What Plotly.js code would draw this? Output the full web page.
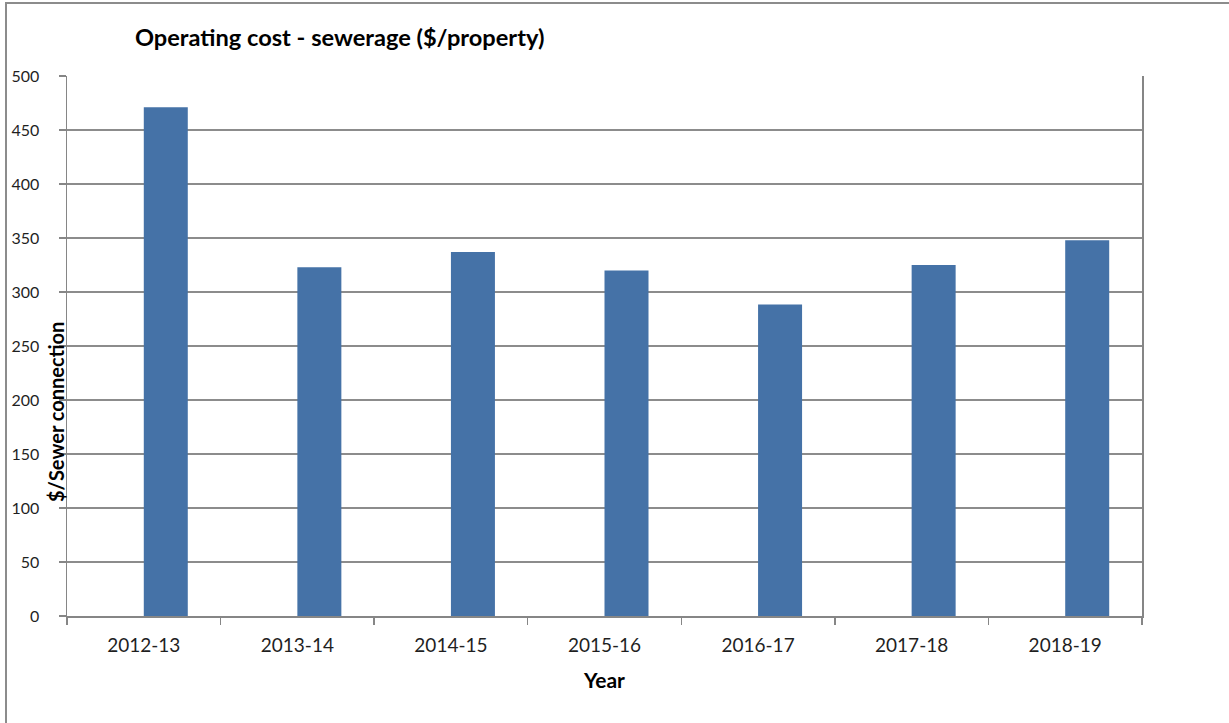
<!DOCTYPE html>
<html>
<head>
<meta charset="utf-8">
<script src="https://cdn.plot.ly/plotly-3.0.1.min.js"></script>
<style>
html,body{margin:0;padding:0;background:#fff;overflow:hidden;}
#frame{position:absolute;left:5px;top:2px;width:1240px;height:740px;border-left:2px solid #8c8c8c;border-top:2px solid #8c8c8c;}
#chart{position:absolute;left:0;top:0;width:1229px;height:723px;}
</style>
</head>
<body>
<div id="frame"></div>
<div id="chart"></div>
<script>
const years = ['2012-13','2013-14','2014-15','2015-16','2016-17','2017-18','2018-19'];
const costs = [471, 323, 337, 320, 288.5, 325, 348];
const yTicks = [0,50,100,150,200,250,300,350,400,450,500];

const FONT = 'Lato, "Open Sans", "Liberation Sans", sans-serif';

const trace = {
  type: 'bar',
  x: years,
  y: costs,
  offset: 0,
  width: 0.2865,
  marker: {color: '#4572A7', line: {width: 0}},
  hoverinfo: 'x+y'
};

const layout = {
  width: 1229,
  height: 723,
  margin: {l: 67, r: 87, t: 76, b: 107},
  paper_bgcolor: 'rgba(0,0,0,0)',
  plot_bgcolor: '#ffffff',
  showlegend: false,
  font: {family: FONT, size: 18, color: '#1f1f1f'},
  title: {
    text: '<b>Operating cost - sewerage ($/property)</b>',
    font: {family: FONT, size: 23.6, color: '#000'},
    xref: 'container', yref: 'container',
    x: 135/1229, xanchor: 'left',
    y: 1 - 38/723, yanchor: 'middle'
  },
  xaxis: {
    type: 'category',
    tickmode: 'array',
    tickvals: years,
    ticktext: years,
    tickson: 'boundaries',
    ticks: 'outside',
    ticklen: 7,
    tickcolor: '#868686',
    tickwidth: 1.5,
    showline: true,
    linecolor: '#868686',
    linewidth: 1.5,
    showgrid: false,
    zeroline: false,
    ticklabelstandoff: 12,
    tickfont: {family: FONT, size: 19, color: '#1f1f1f'},
    title: {text: '<b>Year</b>', font: {family: FONT, size: 21, color: '#000'}, standoff: 18},
    fixedrange: true
  },
  yaxis: {
    range: [0, 500],
    tickmode: 'array',
    tickvals: yTicks,
    ticks: 'outside',
    ticklen: 7,
    tickcolor: '#868686',
    tickwidth: 1.5,
    showline: true,
    mirror: true,
    linecolor: '#868686',
    linewidth: 1.5,
    showgrid: true,
    gridcolor: '#8c8c8c',
    gridwidth: 1.2,
    zeroline: false,
    ticklabelstandoff: 16,
    tickfont: {family: FONT, size: 16, color: '#1f1f1f'},
    fixedrange: true
  },
  annotations: [{
    text: '<b>$/Sewer connection</b>',
    xref: 'paper', yref: 'paper',
    x: (56-67)/1075, y: (616-412)/540,
    xanchor: 'center', yanchor: 'middle',
    textangle: -90,
    showarrow: false,
    font: {family: FONT, size: 20, color: '#000'}
  }]
};

Plotly.newPlot('chart', [trace], layout, {displayModeBar: false, staticPlot: true});
</script>
</body>
</html>
